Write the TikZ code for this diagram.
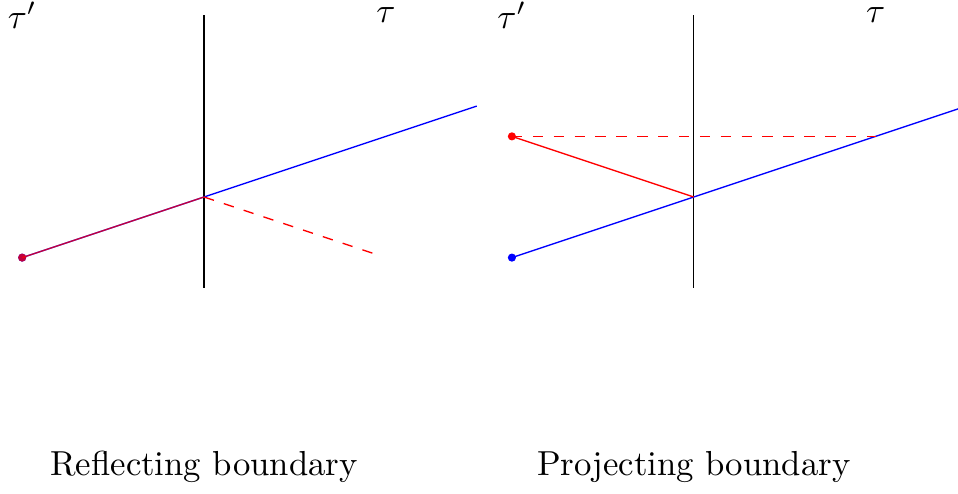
\documentclass[tikz,border=0pt]{standalone}
\usepackage{amsmath}
\usepackage{tikz}
\usetikzlibrary{positioning,calc}

\begin{document}
\begin{tikzpicture}[line width=0.65pt, every node/.style={scale=1.63},
    dot/.style={circle, fill, inner sep=0pt, minimum size=2.35pt},
    ray/.style={dash pattern=on 4.9pt off 4.9pt}]
            \useasboundingbox (-3.366,-4.885) rectangle (12.44,3.25);
            % reflecting boundary
            \coordinate (o1) at (0,0);
            \coordinate (up1) at (0,3);
            \coordinate (lo1) at (0,-1.5);
            \coordinate (far1) at (4.5,1.5);
            \coordinate (refl) at (2.85,-0.95);
            \node (tp1) at (-3,3) {$\tau'$};
            \node (t1) at (3,3) {$\tau$};
            \draw (up1) -- (lo1);
            \node[dot, blue] (src1) at (-3,-1) {};
            \draw[blue] (src1.center) -- (far1);
            \node[dot, red, opacity=0.75] (img1) at (-3,-1) {};
            \draw[red, opacity=0.75] (img1.center) -- (o1);
            \draw[red, ray] (o1) -- (refl);
            \node (cap1) at (0,-4.46) {Reflecting boundary};

            % projecting boundary
            \coordinate (o2) at (8.08,0);
            \coordinate (up2) at (8.08,3);
            \coordinate (lo2) at (8.08,-1.5);
            \coordinate (far2) at (12.58,1.5);
            \coordinate (hit) at (11.08,1);
            \node (tp2) at (5.08,3) {$\tau'$};
            \node (t2) at (11.08,3) {$\tau$};
            \draw (up2) -- (lo2);
            \node[dot, blue] (src2) at (5.08,-1) {};
            \draw[blue] (src2.center) -- (far2);
            \node[dot, red] (img2) at (5.08,1) {};
            \draw[red] (img2.center) -- (o2);
            \draw[red, ray] (img2.center) -- (hit);
            \node (cap2) at (8.08,-4.46) {Projecting boundary};
        \end{tikzpicture}
\end{document}
